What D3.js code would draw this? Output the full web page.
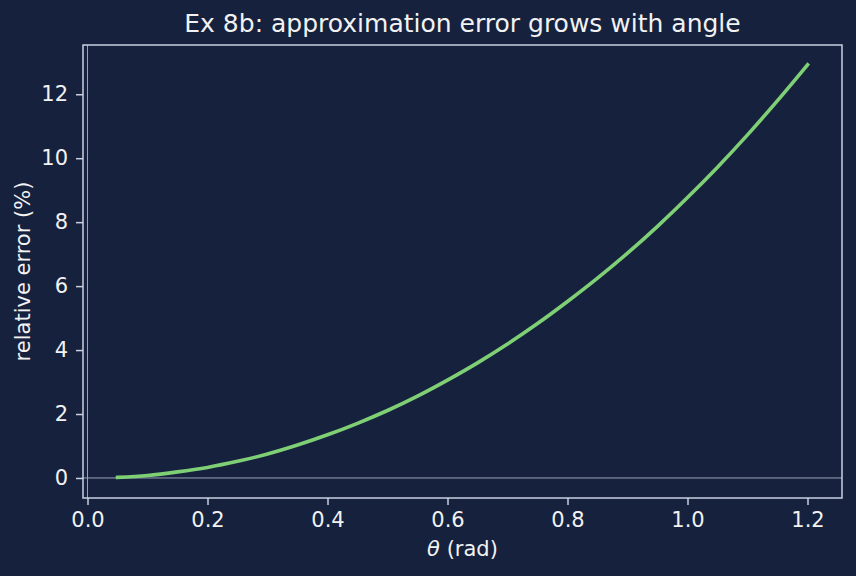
<!DOCTYPE html>
<html>
<head>
<meta charset="utf-8">
<script src="https://cdn.jsdelivr.net/npm/d3@7"></script>
<style>
  body { margin: 0; background: #16213e; }
  text { font-family: "DejaVu Sans", sans-serif; }
</style>
</head>
<body>
<div class="chart"></div>
<script>
// angle (rad) and relative error (%)
const thetaVals = [0.05, 0.10, 0.15, 0.20, 0.25, 0.30, 0.35, 0.40, 0.45, 0.50, 0.55, 0.60,
                   0.65, 0.70, 0.75, 0.80, 0.85, 0.90, 0.95, 1.00, 1.05, 1.10, 1.15, 1.20]
const errVals = [0.02, 0.08, 0.19, 0.33, 0.52, 0.75, 1.03, 1.35, 1.71, 2.11, 2.56, 3.06,
                 3.60, 4.19, 4.83, 5.52, 6.25, 7.03, 7.87, 8.77, 9.72, 10.73, 11.80, 12.92]
const xTicks = [0.0, 0.2, 0.4, 0.6, 0.8, 1.0, 1.2]
const yTicks = [0, 2, 4, 6, 8, 10, 12]

const data = thetaVals.map((t, i) => ({theta: t, err: errVals[i]}))

const W = 856, H = 576
const margin = ({top: 45, right: 14, bottom: 78, left: 83})
const width = W - margin.left - margin.right,
  height = H - margin.top - margin.bottom

const bg = "#16213e", fg = "#f2f2f2", spine = "#c9d0e0"
const fs = 21

const svg = d3.select(".chart").append("svg")
  .attr("width", W)
  .attr("height", H)

svg.append("rect").attr("width", W).attr("height", H).attr("fill", bg)

const g = svg.append("g")
  .attr("transform", "translate(" + margin.left + "," + margin.top + ")")

const x = d3.scaleLinear().domain([-0.0075, 1.2575]).range([0, width])
const y = d3.scaleLinear().domain([-0.626, 13.54]).range([height, 0])

// reference lines at zero
g.append("line")
  .attr("x1", x(0)).attr("x2", x(0))
  .attr("y1", 0).attr("y2", height)
  .attr("stroke", "#9aa2b8").attr("stroke-width", 1)
g.append("line")
  .attr("x1", 0).attr("x2", width)
  .attr("y1", y(0)).attr("y2", y(0))
  .attr("stroke", "#9aa2b8").attr("stroke-width", 1)

const line = d3.line()
  .x(d => x(d.theta))
  .y(d => y(d.err))
  .curve(d3.curveMonotoneX)

g.append("path")
  .datum(data)
  .attr("d", line)
  .attr("fill", "none")
  .attr("stroke", "#7fcf75")
  .attr("stroke-width", 3.6)
  .attr("stroke-linecap", "square")

const xAxis = d3.axisBottom(x).tickValues(xTicks).tickFormat(d3.format(".1f")).tickSizeOuter(0).tickSize(7).tickPadding(7)
const yAxis = d3.axisLeft(y).tickValues(yTicks).tickFormat(d3.format("d")).tickSizeOuter(0).tickSize(7).tickPadding(8)

const xg = g.append("g").attr("transform", `translate(0, ${height})`).call(xAxis)
const yg = g.append("g").call(yAxis)

for (const ax of [xg, yg]) {
  ax.select(".domain").remove()
  ax.selectAll(".tick line").attr("stroke", spine).attr("stroke-width", 1.5)
  ax.selectAll(".tick text").attr("fill", fg).attr("font-size", fs)
    .attr("font-family", "DejaVu Sans")
}

// frame
g.append("rect")
  .attr("width", width).attr("height", height)
  .attr("fill", "none").attr("stroke", spine).attr("stroke-width", 1.5)

svg.append("text")
  .attr("x", margin.left + width / 2)
  .attr("y", 32)
  .attr("text-anchor", "middle")
  .attr("fill", fg)
  .attr("font-size", 25)
  .text("Ex 8b: approximation error grows with angle")

const xl = svg.append("text")
  .attr("x", margin.left + width / 2)
  .attr("y", 556)
  .attr("text-anchor", "middle")
  .attr("fill", fg)
  .attr("font-size", fs)
xl.append("tspan").attr("font-style", "italic").text("θ")
xl.append("tspan").text(" (rad)")

svg.append("text")
  .attr("transform", `translate(30, ${margin.top + height / 2}) rotate(-90)`)
  .attr("text-anchor", "middle")
  .attr("fill", fg)
  .attr("font-size", fs)
  .text("relative error (%)")
</script>
</body>
</html>
